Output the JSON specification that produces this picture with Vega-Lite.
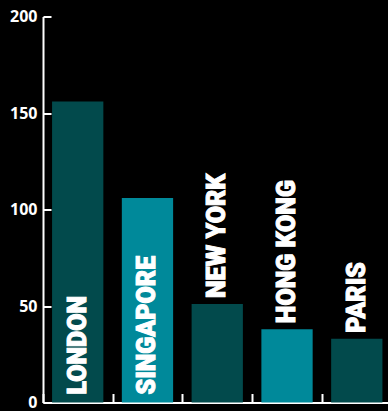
{
  "$schema": "https://vega.github.io/schema/vega-lite/v6.json",
  "width": 348.5,
  "height": 386,
  "autosize": {"type": "none"},
  "padding": {"left": 43, "top": 16.5, "right": 0, "bottom": 8.5},
  "background": "#000000",
  "config": {"view": {"stroke": null}},
  "data": {
    "values": [
      {"city": "LONDON", "value": 156},
      {"city": "SINGAPORE", "value": 106},
      {"city": "NEW YORK", "value": 51},
      {"city": "HONG KONG", "value": 38},
      {"city": "PARIS", "value": 33}
    ]
  },
  "encoding": {
    "x": {
      "field": "city",
      "type": "nominal",
      "sort": null,
      "scale": {"paddingInner": 0.265, "paddingOuter": 0.13},
      "axis": {
        "title": null,
        "labels": false,
        "domainColor": "#ffffff",
        "domainWidth": 2,
        "tickColor": "#ffffff",
        "tickWidth": 2,
        "tickSize": -9,
        "bandPosition": 0,
        "tickOffset": -9.25
      }
    }
  },
  "layer": [
    {
      "mark": {"type": "bar"},
      "encoding": {
        "y": {
          "field": "value",
          "type": "quantitative",
          "scale": {"domain": [0, 200]},
          "axis": {
            "title": null,
            "values": [0, 50, 100, 150, 200],
            "grid": false,
            "domainColor": "#ffffff",
            "domainWidth": 2,
            "tickColor": "#ffffff",
            "tickWidth": 2,
            "tickSize": -8,
            "labelColor": "#ffffff",
            "labelFont": "Open Sans",
            "labelFontSize": 16,
            "labelFontWeight": "bold",
            "labelPadding": 14
          }
        },
        "color": {
          "field": "city",
          "type": "nominal",
          "sort": null,
          "scale": {
            "domain": ["LONDON", "SINGAPORE", "NEW YORK", "HONG KONG", "PARIS"],
            "range": ["#024a4c", "#00899a", "#024a4c", "#00899a", "#024a4c"]
          },
          "legend": null
        }
      }
    },
    {
      "transform": [{"filter": "datum.value > 100"}],
      "mark": {
        "type": "text",
        "angle": 270,
        "align": "left",
        "baseline": "middle",
        "dx": 8,
        "font": "Roboto",
        "fontWeight": 900,
        "fontSize": 25,
        "color": "#ffffff",
        "stroke": "#ffffff",
        "strokeWidth": 1
      },
      "encoding": {
        "y": {"datum": 0, "type": "quantitative"},
        "text": {"field": "city"}
      }
    },
    {
      "transform": [{"filter": "datum.value <= 100"}],
      "mark": {
        "type": "text",
        "angle": 270,
        "align": "left",
        "baseline": "middle",
        "dx": 6,
        "font": "Roboto",
        "fontWeight": 900,
        "fontSize": 25,
        "color": "#ffffff",
        "stroke": "#ffffff",
        "strokeWidth": 1
      },
      "encoding": {
        "y": {"field": "value", "type": "quantitative"},
        "text": {"field": "city"}
      }
    }
  ]
}
